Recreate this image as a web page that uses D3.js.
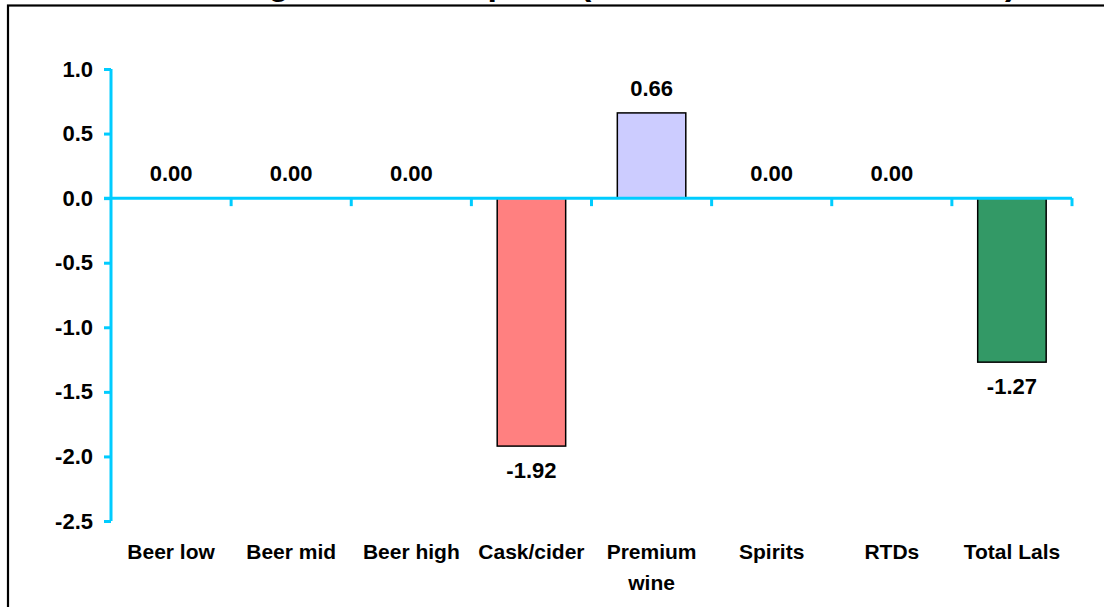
<!DOCTYPE html>
<html>
<head>
<meta charset="utf-8">
<script src="https://cdn.jsdelivr.net/npm/d3@7"></script>
<style>
  html, body { margin: 0; padding: 0; background: #fff; }
  svg { display: block; font-family: Arial, "Liberation Sans", Helvetica, sans-serif; font-weight: bold; }
</style>
</head>
<body>
<svg id="chart" width="1104" height="607"></svg>
<script>
// Categories and their change values
const categories = ["Beer low", "Beer mid", "Beer high", "Cask/cider", "Premium wine", "Spirits", "RTDs", "Total Lals"];
const values = [0.00, 0.00, 0.00, -1.92, 0.66, 0.00, 0.00, -1.27];
const barColors = ["#FF8080", "#FF8080", "#FF8080", "#FF8080", "#CCCCFF", "#CCCCFF", "#CCCCFF", "#339966"];
const yTicks = [1.0, 0.5, 0.0, -0.5, -1.0, -1.5, -2.0, -2.5];
const titleText = "Estimated change in consumption (thousand litres of alcohol)";

const svg = d3.select("#chart");
const axisColor = "#00CCFF";
const labelSize = 21;
const numberSize = 22;

// Plain hyphen for negative numbers
const locale = d3.formatLocale({ decimal: ".", thousands: ",", grouping: [3], currency: ["", ""], minus: "-" });
const fmt1 = locale.format(".1f");
const fmt2 = locale.format(".2f");

const plot = { left: 111, right: 1072, top: 69, bottom: 521 };

const x = d3.scaleBand()
  .domain(categories)
  .range([plot.left, plot.right])
  .paddingInner(0.43)
  .paddingOuter(0.215);

const y = d3.scaleLinear()
  .domain([-2.5, 1.0])
  .range([plot.bottom, plot.top]);

const data = categories.map((c, i) => ({ cat: c, value: values[i], color: barColors[i] }));

// Outer chart border (runs off the right and bottom edges)
svg.append("rect")
  .attr("x", 8).attr("y", 5.5)
  .attr("width", 1200).attr("height", 700)
  .attr("fill", "none")
  .attr("stroke", "#000")
  .attr("stroke-width", 2.2);

// Title, clipped by the top edge
svg.append("text")
  .attr("x", 17).attr("y", -5)
  .attr("font-size", 34)
  .attr("fill", "#000")
  .text(titleText);

// Bars
svg.append("g").selectAll("rect")
  .data(data.filter(d => d.value !== 0))
  .join("rect")
  .attr("x", d => x(d.cat))
  .attr("width", x.bandwidth())
  .attr("y", d => y(Math.max(0, d.value)))
  .attr("height", d => Math.abs(y(d.value) - y(0)))
  .attr("fill", d => d.color)
  .attr("stroke", "#000")
  .attr("stroke-width", 1.5);

// Y axis
const yAxis = d3.axisLeft(y)
  .tickValues(yTicks)
  .tickFormat(fmt1)
  .tickSize(7)
  .tickPadding(11);

const gy = svg.append("g")
  .attr("transform", `translate(${plot.left},0)`)
  .call(yAxis);
gy.select(".domain").remove();
gy.append("line")
  .attr("x1", 0).attr("x2", 0)
  .attr("y1", y(1.0)).attr("y2", y(-2.5))
  .attr("stroke", axisColor).attr("stroke-width", 3);
gy.selectAll(".tick line").attr("stroke", axisColor).attr("stroke-width", 3);
gy.selectAll(".tick text")
  .attr("font-size", numberSize)
  .attr("font-family", "Arial, 'Liberation Sans', sans-serif")
  .attr("font-weight", "bold")
  .attr("fill", "#000");

// X axis along zero, with ticks at category boundaries
const step = x.step();
const boundaries = d3.range(categories.length + 1).map(i => plot.left + i * step);
const gx = svg.append("g");
gx.append("line")
  .attr("x1", plot.left - 7).attr("x2", plot.right)
  .attr("y1", y(0)).attr("y2", y(0))
  .attr("stroke", axisColor).attr("stroke-width", 3);
gx.selectAll("line.tk")
  .data(boundaries.slice(1))
  .join("line")
  .attr("class", "tk")
  .attr("x1", d => d).attr("x2", d => d)
  .attr("y1", y(0)).attr("y2", y(0) + 8)
  .attr("stroke", axisColor).attr("stroke-width", 3);

// Category labels
const catLines = { "Premium wine": ["Premium", "wine"] };
const gl = svg.append("g").attr("font-size", labelSize).attr("fill", "#000").attr("text-anchor", "middle");
categories.forEach(c => {
  const lines = catLines[c] || [c];
  const t = gl.append("text").attr("x", x(c) + x.bandwidth() / 2).attr("y", 559);
  lines.forEach((ln, i) => {
    t.append("tspan")
      .attr("x", x(c) + x.bandwidth() / 2)
      .attr("dy", i === 0 ? 0 : 31)
      .text(ln);
  });
});

// Value labels
svg.append("g").attr("font-size", numberSize).attr("fill", "#000").attr("text-anchor", "middle")
  .selectAll("text")
  .data(data)
  .join("text")
  .attr("x", d => x(d.cat) + x.bandwidth() / 2)
  .attr("y", d => d.value < 0 ? y(d.value) + 32 : y(d.value) - 17)
  .text(d => fmt2(d.value));
</script>
</body>
</html>
